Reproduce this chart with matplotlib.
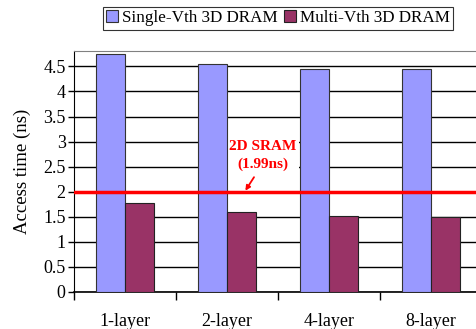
import numpy as np
import matplotlib
matplotlib.use("Agg")
import matplotlib.pyplot as plt

plt.rcParams['font.family'] = ['Liberation Serif', 'DejaVu Serif']

layers = ["1-layer", "2-layer", "4-layer", "8-layer"]
single_vth = [4.74, 4.55, 4.44, 4.44]
multi_vth = [1.77, 1.59, 1.51, 1.50]
sram_time = 1.99

fig = plt.figure(figsize=(4.76, 3.29), dpi=100)
ax = fig.add_axes([0.1555, 0.1125, 0.857, 0.7315])

x = np.arange(len(layers))
w = 0.28
ax.bar(x - w / 2, single_vth, w, color="#9999FF", edgecolor="#333333", linewidth=0.8,
       label="Single-Vth 3D DRAM", zorder=3)
ax.bar(x + w / 2, multi_vth, w, color="#993366", edgecolor="#222222", linewidth=0.8,
       label="Multi-Vth 3D DRAM", zorder=3)

# 2D SRAM reference line with its callout
ax.axhline(sram_time, color="red", linewidth=2.5, zorder=4)
ax.text(1.35, 2.73, "2D SRAM\n(1.99ns)", ha="center", va="center", color="red",
        fontsize=11, fontweight="bold", linespacing=1.45, zorder=2,
        bbox=dict(facecolor="white", edgecolor="none", pad=2))
ax.annotate("", xy=(1.18, 2.02), xytext=(1.265, 2.29),
            arrowprops=dict(arrowstyle="-|>", color="red", lw=1.3, mutation_scale=7,
                            shrinkA=0, shrinkB=0), zorder=5)

ax.set_xlim(-0.5, 3.5)
ax.set_ylim(0, 4.8)
ax.set_yticks(np.arange(0, 4.51, 0.5))
ax.set_yticklabels(["0", "0.5", "1", "1.5", "2", "2.5", "3", "3.5", "4", "4.5"])
ax.yaxis.grid(True, color="black", linewidth=1.0, zorder=0)
ax.set_axisbelow(True)

ax.set_xticks(x)
ax.set_xticklabels(layers)
ax.set_xticks(np.arange(-0.5, 3.6, 1.0), minor=True)
ax.tick_params(axis="x", which="major", length=0, pad=15, labelsize=13)
ax.tick_params(axis="x", which="minor", length=6, width=1, direction="out")
ax.tick_params(axis="y", length=4, width=1, labelsize=13, pad=2)

ax.spines["top"].set_color("#808080")
ax.spines["right"].set_color("#808080")
ax.spines["left"].set_color("black")
ax.spines["bottom"].set_color("black")
ax.spines["bottom"].set_linewidth(1.2)

ax.set_ylabel("Access time (ns)", fontsize=13.5, labelpad=9)

leg = fig.legend(loc="center", bbox_to_anchor=(0.584, 0.944), ncol=2, fontsize=12.3,
                 frameon=True, fancybox=False, edgecolor="black", handlelength=0.7,
                 handleheight=0.7, handletextpad=0.2, columnspacing=0.4,
                 borderpad=0.2, borderaxespad=0)
leg.get_frame().set_linewidth(0.8)

fig.savefig("out.png", dpi=100)
